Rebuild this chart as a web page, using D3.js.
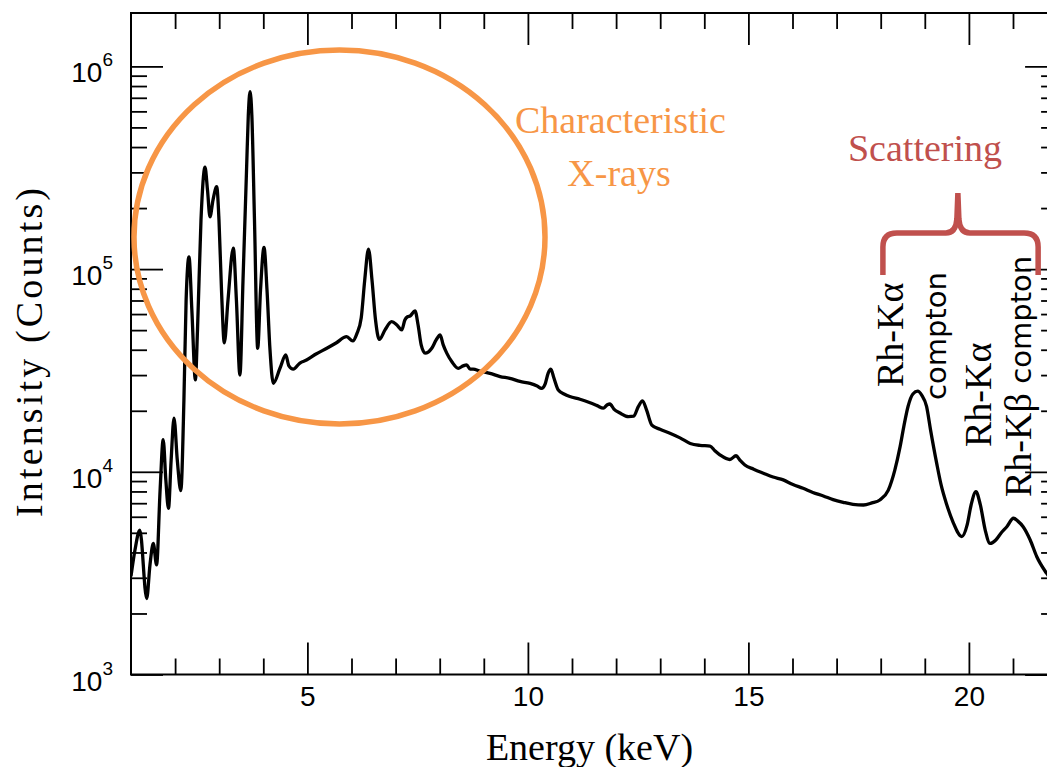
<!DOCTYPE html>
<html>
<head>
<meta charset="utf-8">
<script src="https://cdn.jsdelivr.net/npm/d3@7"></script>
<style>
  html, body { margin: 0; padding: 0; background: #fff; }
  svg { display: block; }
</style>
</head>
<body>
<svg id="chart" width="1047" height="767"></svg>
<script>
// XRF spectrum: energy (keV) and detector counts
const energy = [
  1.00, 1.09, 1.20, 1.356, 1.43, 1.506, 1.58, 1.66, 1.73, 1.79, 1.85, 1.91, 1.975, 2.05, 2.13,
  2.20, 2.25, 2.315, 2.38, 2.46, 2.508, 2.587, 2.678, 2.735, 2.791, 2.859, 2.943, 2.995, 3.052,
  3.116, 3.20, 3.32, 3.39, 3.47, 3.54, 3.62, 3.66, 3.70, 3.74, 3.80, 3.873, 3.937, 4.016, 4.084,
  4.152, 4.227, 4.38, 4.51, 4.58, 4.68,
  4.83, 4.98, 5.195, 5.44, 5.65, 5.89, 6.03, 6.12, 6.22, 6.30, 6.385, 6.465, 6.545, 6.63, 6.76,
  6.91, 7.03, 7.14, 7.21, 7.27, 7.33, 7.44, 7.51, 7.58, 7.67, 7.82, 7.92, 8.01, 8.08, 8.16, 8.28,
  8.42, 8.53, 8.61, 8.69, 8.76,
  8.91, 9.14, 9.37, 9.59, 9.82, 10.05, 10.21, 10.31, 10.39, 10.46, 10.52, 10.59, 10.69, 10.82,
  10.95, 11.18, 11.41, 11.57, 11.71, 11.80, 11.86, 11.95, 12.09, 12.28, 12.40, 12.50, 12.60,
  12.69, 12.81, 12.995, 13.22, 13.45, 13.68, 13.90, 14.13, 14.24, 14.36, 14.58, 14.72, 14.81,
  14.92, 15.12, 15.34, 15.56, 15.79, 16.01, 16.24, 16.46, 16.70, 16.92, 17.15, 17.37, 17.61,
  17.80, 17.98, 18.17, 18.32, 18.44, 18.53, 18.62, 18.73, 18.84, 18.93, 19.04, 19.13, 19.27,
  19.37, 19.50, 19.64, 19.84, 19.96, 20.05, 20.16, 20.26, 20.37, 20.48, 20.61, 20.73, 20.86,
  21.01, 21.11, 21.23, 21.39, 21.54, 21.76, 22.00
];
const counts = [
  3050, 4110, 5160, 2370, 3470, 4430, 3470, 8130, 14400, 9120, 6600, 11400, 18400, 11400, 8070,
  22600, 70500, 115000, 62800, 28400, 50100, 174600, 318000, 245000, 181000, 219000, 255000, 174600, 78900,
  43300, 70500, 127000, 70500, 30000, 88300, 308000, 575000, 750000, 575000, 174600, 40700, 78900, 128000, 78900,
  39900, 27300, 32500, 37700, 33300, 32100,
  34400, 35600, 38100, 40700, 43200, 46400, 44200, 47900, 57400, 88300, 125600, 88300, 56100, 45000, 50100,
  55000, 53000, 50100, 56100, 58200, 58700, 62200, 53000, 42300, 38500, 40700, 44700, 47300, 42300, 38500, 34800,
  32400, 33300, 33700, 32100, 32100,
  31400, 30600, 29500, 28900, 27900, 27300, 26500, 25800, 27100, 30700, 32100, 29000, 25300, 24200,
  23500, 22800, 21900, 21200, 20600, 21400, 21600, 20400, 19500, 18700, 18800, 20900, 22400,
  20200, 17000, 16200, 15500, 14700, 13800, 13500, 13400, 12700, 12100, 11500, 12000, 11400,
  10800, 10300, 9840, 9420, 9120, 8650, 8290, 7910, 7600, 7290, 7070, 6910, 6860,
  7020, 7260, 8100, 10200, 13300, 17000, 21000, 24200, 25000, 23900, 21000, 16100, 11000,
  8610, 6860, 5650, 4790, 5470, 6860, 7980, 6860, 5160, 4430, 4610, 4990, 5360,
  5900, 5710, 5360, 4610, 3810, 3160, 2700
];

const xMajor = [5, 10, 15, 20];
const xMinor = [2, 3, 4, 6, 7, 8, 9, 11, 12, 13, 14, 16, 17, 18, 19, 21];
const yExponents = [3, 4, 5, 6];

const orange = "#F79646";
const red = "#C0504D";
const SERIF = "'Liberation Serif', 'Times New Roman', serif";
const SANS = "'Liberation Sans', Arial, sans-serif";
const WIDE_SANS = "'DejaVu Sans', sans-serif";

const svg = d3.select("#chart");
const plotL = 131, plotR = 1057.1, plotT = 13, plotB = 674.5;

const x = d3.scaleLinear().domain([1, 22]).range([plotL, plotR]);
const y = d3.scaleLog().domain([1000, 1.834e6]).range([plotB, plotT]);

// minor y ticks: 2..9 x 10^k
const yMinor = [];
yExponents.forEach(k => { for (let m = 2; m <= 9; m++) { const v = m * Math.pow(10, k); if (v < y.domain()[1]) yMinor.push(v); } });
const yMajor = yExponents.map(k => Math.pow(10, k));

function styleAxis(g) {
  g.select(".domain").remove();
  g.selectAll(".tick line").attr("stroke", "#000").attr("stroke-width", 1.8);
}

// bottom axis
svg.append("g").attr("transform", `translate(0,${plotB})`)
  .call(d3.axisBottom(x).tickValues(xMinor).tickSize(-16).tickFormat(""))
  .call(styleAxis);
svg.append("g").attr("transform", `translate(0,${plotB})`)
  .call(d3.axisBottom(x).tickValues(xMajor).tickSize(-32).tickPadding(12).tickFormat(d3.format("d")))
  .call(styleAxis)
  .call(g => g.attr("font-family", SANS).attr("font-size", 28)
    .selectAll("text").attr("fill", "#000"));
// top axis (mirrored ticks)
svg.append("g").attr("transform", `translate(0,${plotT})`)
  .call(d3.axisTop(x).tickValues(xMinor).tickSize(-16).tickFormat(""))
  .call(styleAxis);
svg.append("g").attr("transform", `translate(0,${plotT})`)
  .call(d3.axisTop(x).tickValues(xMajor).tickSize(-32).tickFormat(""))
  .call(styleAxis);
// left axis
svg.append("g").attr("transform", `translate(${plotL},0)`)
  .call(d3.axisLeft(y).tickValues(yMinor).tickSize(-16).tickFormat(""))
  .call(styleAxis);
svg.append("g").attr("transform", `translate(${plotL},0)`)
  .call(d3.axisLeft(y).tickValues(yMajor).tickSize(-32).tickFormat(""))
  .call(styleAxis);
// right axis
svg.append("g").attr("transform", `translate(${plotR},0)`)
  .call(d3.axisRight(y).tickValues(yMinor).tickSize(-16).tickFormat(""))
  .call(styleAxis);
svg.append("g").attr("transform", `translate(${plotR},0)`)
  .call(d3.axisRight(y).tickValues(yMajor).tickSize(-32).tickFormat(""))
  .call(styleAxis);

// frame
svg.append("rect").attr("x", plotL).attr("y", plotT)
  .attr("width", plotR - plotL).attr("height", plotB - plotT)
  .attr("fill", "none").attr("stroke", "#000").attr("stroke-width", 2);

// y tick labels 10^k
const yl = svg.append("g").attr("font-family", SANS).attr("fill", "#000");
yExponents.forEach(k => {
  const t = yl.append("text").attr("x", 113).attr("y", y(Math.pow(10, k)) + 16)
    .attr("text-anchor", "end").attr("font-size", 28);
  t.append("tspan").text("10");
  t.append("tspan").attr("dy", -16).attr("font-size", 19).text(String(k));
});

// spectrum
svg.append("clipPath").attr("id", "plotclip").append("rect")
  .attr("x", plotL).attr("y", plotT).attr("width", plotR - plotL).attr("height", plotB - plotT);
const pts = energy.map((e, i) => [e, counts[i]]);
const line = d3.line().x(d => x(d[0])).y(d => y(d[1])).curve(d3.curveMonotoneX);
svg.append("path").datum(pts).attr("d", line)
  .attr("clip-path", "url(#plotclip)")
  .attr("fill", "none").attr("stroke", "#000").attr("stroke-width", 3.3)
  .attr("stroke-linejoin", "round");

// characteristic X-ray region
svg.append("ellipse").attr("cx", 339.5).attr("cy", 237).attr("rx", 205.5).attr("ry", 187)
  .attr("fill", "none").attr("stroke", orange).attr("stroke-width", 5.5);
svg.append("text").attr("font-family", SERIF).attr("x", 620.5).attr("y", 133)
  .attr("text-anchor", "middle").attr("font-size", 38).attr("fill", orange).text("Characteristic");
svg.append("text").attr("font-family", SERIF).attr("x", 619).attr("y", 186)
  .attr("text-anchor", "middle").attr("font-size", 38).attr("fill", orange).text("X-rays");

// scattering brace
const bl = x(18.05), br = x(21.57), bc = x(19.75);
const by = 233, bt = 193, bb = 275;
svg.append("path")
  .attr("d", `M${bl},${bb} L${bl},${by + 14} Q${bl},${by} ${bl + 14},${by} L${bc - 12},${by}` +
             ` Q${bc - 2},${by} ${bc - 1},${by - 14} L${bc},${bt} L${bc + 1},${by - 14}` +
             ` Q${bc + 2},${by} ${bc + 12},${by} L${br - 14},${by} Q${br},${by} ${br},${by + 14} L${br},${bb}`)
  .attr("fill", "none").attr("stroke", red).attr("stroke-width", 5.5);
svg.append("text").attr("font-family", SERIF).attr("x", 925).attr("y", 161)
  .attr("text-anchor", "middle").attr("font-size", 38).attr("fill", red).text("Scattering");

// peak labels (vertical)
function vlabel(px, py, parts) {
  const t = svg.append("text").attr("transform", `translate(${px},${py}) rotate(-90)`).attr("fill", "#000");
  parts.forEach(p => t.append("tspan").attr("font-family", p.font).attr("font-size", p.size).text(p.text));
}
vlabel(903, 387, [{ text: "Rh-Kα", font: SERIF, size: 38 }]);
vlabel(946, 400, [{ text: "compton", font: WIDE_SANS, size: 29 }]);
vlabel(991, 447, [{ text: "Rh-Kα", font: SERIF, size: 38 }]);
vlabel(1031, 497, [{ text: "Rh-Kβ ", font: SERIF, size: 38 }, { text: "compton", font: WIDE_SANS, size: 29 }]);

// axis titles
svg.append("text").attr("font-family", SERIF).attr("x", 589.5).attr("y", 760)
  .attr("text-anchor", "middle").attr("font-size", 38).attr("fill", "#000").text("Energy (keV)");
svg.append("text").attr("font-family", SERIF).attr("transform", "translate(42,352.5) rotate(-90)")
  .attr("text-anchor", "middle").attr("font-size", 38).attr("fill", "#000")
  .attr("textLength", 329).attr("lengthAdjust", "spacing").text("Intensity (Counts)");
</script>
</body>
</html>
